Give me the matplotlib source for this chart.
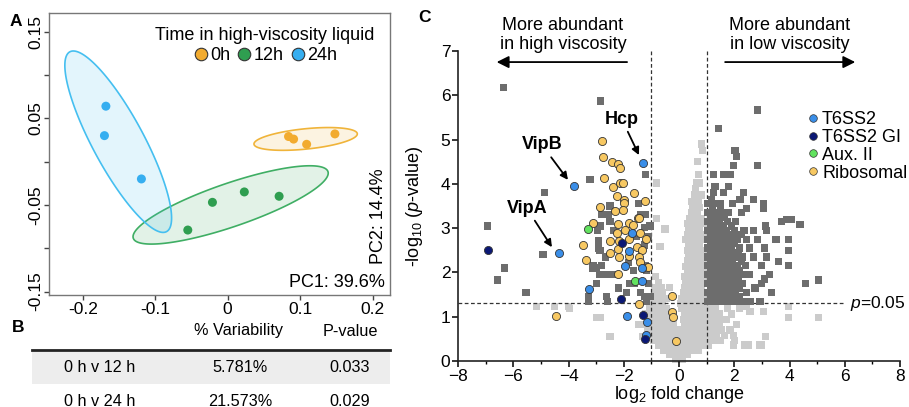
import numpy as np
import matplotlib
matplotlib.use("Agg")
import matplotlib.pyplot as plt
from matplotlib.patches import Polygon, Rectangle
from matplotlib.lines import Line2D

plt.rcParams['font.family'] = ['Liberation Sans', 'DejaVu Sans']
plt.rcParams['mathtext.fontset'] = 'custom'
plt.rcParams['mathtext.rm'] = 'Liberation Sans'
plt.rcParams['mathtext.it'] = 'Liberation Sans:italic'
plt.rcParams['mathtext.bf'] = 'Liberation Sans:bold'

# ---------------- Panel A data (PCA) ----------------
pc1_0h = [0.084, 0.091, 0.109, 0.148]
pc2_0h = [0.029, 0.026, 0.020, 0.032]
pc1_12h = [-0.055, -0.021, 0.023, 0.071]
pc2_12h = [-0.079, -0.047, -0.035, -0.040]
pc1_24h = [-0.168, -0.170, -0.119]
pc2_24h = [0.064, 0.030, -0.020]
group_labels = ['0h', '12h', '24h']
# ellipse: centre, major half-vector, minor half-vector (data units)
ell_0h = [(0.1076, 0.0262), (0.0713, 0.0058), (0.0, 0.0118)]
ell_12h = [(0.0041, -0.0500), (0.1343, 0.0385), (0.0097, -0.0237)]
ell_24h = [(-0.151, 0.023), (0.0667, -0.1038), (0.0312, 0.0140)]

# ---------------- Panel B data (table) ----------------
tbl_header = ['% Variability', 'P-value']
tbl_rows = ['0 h v 12 h', '0 h v 24 h']
tbl_var = ['5.781%', '21.573%']
tbl_p = ['0.033', '0.029']

# ---------------- Panel C data (volcano) ----------------
t6ss2_x = [-1.32, -3.80, -4.34, -1.71, -1.80, -1.96, -1.34, -1.35, -3.25, -1.87, -1.15, -1.20]
t6ss2_y = [4.48, 3.95, 2.45, 2.88, 2.49, 2.15, 2.11, 1.81, 1.62, 1.02, 0.89, 0.58]
gi_x = [-6.91, -2.05, -2.10, -1.32, -1.22]
gi_y = [2.51, 2.66, 1.40, 1.03, 0.49]
aux_x = [-3.29, -1.58]
aux_y = [2.97, 1.81]
ribo_x = [-2.80, -2.76, -2.44, -2.20, -2.12, -2.72, -2.38, -2.14, -2.02, -2.26, -1.99, -1.98,
          -1.62, -1.23, -2.86, -2.32, -2.02, -3.10, -2.20, -1.80, -1.65, -1.50, -1.44, -2.23,
          -1.96, -1.41, -1.21, -3.49, -2.48, -2.16, -1.80, -2.20, -1.53, -1.35, -3.37, -2.48,
          -2.17, -1.82, -1.46, -1.41, -1.11, -2.22, -1.45, -4.47, -0.27, -0.27, -0.21, -0.10]
ribo_y = [4.97, 4.60, 4.50, 4.44, 4.36, 4.14, 3.94, 4.01, 4.03, 3.72, 3.63, 3.57,
          3.80, 3.62, 3.48, 3.39, 3.41, 3.12, 3.09, 3.12, 3.07, 3.24, 3.22, 2.88,
          2.96, 2.88, 2.75, 2.62, 2.72, 2.72, 2.75, 2.54, 2.58, 2.51, 2.29, 2.45,
          2.34, 2.36, 2.34, 2.24, 2.13, 1.96, 1.28, 1.02, 1.47, 1.10, 1.00, 0.46]

# significant (dark grey) proteins, rows of (y, [x...])
sig_rows = [
    (1.35, [1.05, 1.25, 1.45, 1.65, 1.85, 2.05, 2.30, 2.57, 2.93, -2.58, -3.28, -1.17]),
    (1.45, [1.15, 1.35, 1.55, 1.75, 1.95, 2.20, -2.62, -1.23, -1.05, -3.29]),
    (1.55, [1.05, 1.25, 1.45, 1.65, 1.85, 2.05, 2.45, 3.35, -5.54, -1.90, -1.40]),
    (1.65, [1.15, 1.35, 1.55, 1.75, 1.95, 2.20, 2.75, -2.20]),
    (1.75, [1.05, 1.25, 1.45, 1.65, 1.85, 2.05, 2.30, 3.00, 4.57, -1.80, -1.63, -1.11, -3.00]),
    (1.83, [-6.58, 5.05]),
    (1.85, [1.15, 1.35, 1.55, 1.75, 1.95, 2.15, 3.10]),
    (1.95, [1.05, 1.25, 1.45, 1.65, 1.85, 2.05, 2.30, 2.55, 3.27, -2.89, -2.62, -2.56, -2.32, -2.74]),
    (2.05, [1.15, 1.35, 1.55, 1.75, 1.95, 2.20, -1.65, -1.17]),
    (2.10, [-6.33, -2.98, -3.13]),
    (2.15, [1.05, 1.25, 1.45, 1.65, 1.85, 2.10, 2.40, 3.00, 3.96, -1.23, -3.10, -2.80]),
    (2.22, [-1.84]),
    (2.25, [1.15, 1.35, 1.55, 1.75, 1.95, 2.25, 3.60]),
    (2.35, [1.05, 1.25, 1.45, 1.65, 1.85, 2.05, 2.30, 2.70, 3.18, -2.65]),
    (2.40, [-4.92]),
    (2.45, [1.15, 1.35, 1.55, 1.75, 1.95, 2.15]),
    (2.50, [3.96, -1.35, -2.86]),
    (2.55, [1.05, 1.25, 1.45, 1.65, 1.90, 2.20, 2.55, 3.10, -2.92]),
    (2.62, [-1.25]),
    (2.65, [1.15, 1.35, 1.55, 1.75, 2.00]),
    (2.72, [-2.90]),
    (2.75, [1.05, 1.25, 1.45, 1.65, 1.85, 2.10, 2.45, 2.85, 3.51, 3.96]),
    (2.81, [-1.53, -1.11]),
    (2.85, [1.15, 1.35, 1.55, 1.75, 2.00, 2.25]),
    (2.95, [1.05, 1.25, 1.45, 1.70, 2.00, 2.35, 2.70, 3.18, -2.38, -2.95]),
    (3.02, [-1.25]),
    (3.05, [1.15, 1.35, 1.60, 1.90, 3.12, -2.86, -6.93, -1.05]),
    (3.15, [1.05, 1.25, 1.45, 1.75, 2.05, 3.72, -2.50]),
    (3.20, [3.90, 4.08]),
    (3.09, [4.38]),
    (3.25, [1.15, 1.40, 1.65]),
    (3.30, [-2.80, -2.56, -1.23, -1.40]),
    (3.35, [1.05, 1.30, 1.55, 1.80, 2.25]),
    (3.45, [1.20, 1.49, 2.45, 3.06]),
    (3.50, [-2.50]),
    (3.55, [1.05, 1.30, 1.50, 1.95, 3.06, -1.47]),
    (3.65, [1.18, 2.21, 2.69]),
    (3.80, [1.25, 1.60, 2.33, -4.88]),
    (3.94, [1.79, 1.30]),
    (4.09, [-3.22]),
    (4.22, [1.24, 1.61, 1.85, -1.21]),
    (4.42, [1.97, 2.84]),
    (4.61, [2.09]),
    (4.76, [2.03]),
    (5.25, [1.43]),
    (5.67, [2.84]),
    (5.87, [-2.83]),
    (6.18, [-6.36]),
]

# non-significant (light grey) proteins, rows of (y, [x...])
ns_rows = [
    (0.04, [-0.12, 0.02, 0.14]),
    (0.14, [-0.33, -0.15, 0.00, 0.16, 0.32]),
    (0.25, [-0.55, -0.36, -0.18, 0.00, 0.18, 0.36, 0.55, 0.72]),
    (0.36, [-0.75, -0.55, -0.35, -0.15, 0.05, 0.25, 0.45, 0.65, 0.85, 1.05, 1.97, 2.39, 3.00, 2.51, 2.93]),
    (0.47, [-0.92, -0.72, -0.52, -0.32, -0.12, 0.08, 0.28, 0.48, 0.68, 0.88, 1.08, 1.28, 1.50, 2.00]),
    (0.55, [-2.50, -1.30, 3.12]),
    (0.58, [-1.05, -0.85, -0.65, -0.45, -0.25, -0.05, 0.15, 0.35, 0.55, 0.75, 0.95, 1.15, 1.35, 1.65, 1.97]),
    (0.70, [-1.15, -0.95, -0.75, -0.55, -0.35, -0.15, 0.10, 0.30, 0.50, 0.70, 0.90, 1.10, 1.30, 1.55, 1.85]),
    (0.82, [-1.20, -1.00, -0.80, -0.60, -0.40, -0.20, 0.20, 0.40, 0.60, 0.80, 1.00, 1.20, 1.45, 2.09, -1.45]),
    (0.94, [-1.10, -0.90, -0.70, -0.50, -0.30, 0.15, 0.35, 0.55, 0.75, 0.95, 1.15, 1.35, 1.60, 1.72]),
    (0.98, [-2.98, -2.86, 3.96, 5.05]),
    (1.06, [-1.20, -1.00, -0.80, -0.60, -0.40, 0.20, 0.40, 0.60, 0.80, 1.00, 1.20, 1.45, 1.90]),
    (1.11, [2.57, 3.06]),
    (1.18, [-1.05, -0.85, -0.65, -0.45, 0.10, 0.30, 0.50, 0.70, 0.90, 1.10, 1.30, 1.75, 2.20, -3.95]),
    (1.23, [-5.16, -4.52, -4.01, 2.45, 3.96]),
    (1.30, [-1.00, -0.80, -0.60, 0.05, 0.25, 0.45, 0.65, 0.85]),
    (1.42, [-0.95, -0.70, -0.45, 0.10, 0.30, 0.50, 0.70, 0.90]),
    (1.54, [-0.85, -0.60, 0.15, 0.35, 0.55, 0.75, 0.95]),
    (1.66, [-0.90, -0.65, -0.35, 0.20, 0.40, 0.60, 0.80]),
    (1.78, [-0.75, 0.25, 0.45, 0.65, 0.85]),
    (1.90, [-0.85, 0.20, 0.40, 0.60, 0.80, 0.95]),
    (2.02, [0.30, 0.50, 0.70, 0.90]),
    (2.14, [0.25, 0.45, 0.65, 0.85]),
    (2.26, [0.30, 0.50, 0.70, 0.90]),
    (2.38, [0.35, 0.55, 0.75, 0.95]),
    (2.50, [0.30, 0.50, 0.70, 0.90]),
    (2.58, [-0.69]),
    (2.62, [0.35, 0.55, 0.75]),
    (2.74, [0.25, 0.45, 0.65, 0.85]),
    (2.86, [0.30, 0.50, 0.70, 0.90]),
    (2.98, [0.35, 0.55, 0.75, -0.51]),
    (3.10, [0.30, 0.50, 0.70, 0.90]),
    (3.22, [0.40, 0.60, 0.80, -0.81]),
    (3.34, [0.45, 0.65]),
    (3.46, [0.50, 0.75]),
    (3.60, [0.45, 0.70]),
    (3.75, [0.55, 0.80]),
    (3.90, [0.60]),
    (4.02, [0.65, 0.75, -0.81]),
    (4.22, [0.70]),
    (4.50, [0.68]),
    (4.75, [0.85]),
    (4.90, [0.82]),
]

legend_c = ['T6SS2', 'T6SS2 GI', 'Aux. II', 'Ribosomal']

# ---------------- colours ----------------
c0, c12, c24 = '#f2ab2f', '#2f9e50', '#36aef0'
e0, e12, e24 = '#f0b43a', '#3fae64', '#45bff0'
col_t6 = '#3a8ee8'
col_gi = '#0b1875'
col_aux = '#62e25f'
col_ribo = '#f7c862'
col_sig = '#6d6d6d'
col_ns = '#cbcbcb'

FS = 13
W, H = 909, 407
fig = plt.figure(figsize=(W / 100, H / 100), dpi=100)


def fx(px):
    return px / W


def fy(py):
    return 1 - py / H


# ================= Panel A =================
axA = fig.add_axes([fx(49), fy(295), (390 - 49) / W, (295 - 13) / H])
axA.set_xlim(-0.2465, 0.224)
axA.set_ylim(-0.154, 0.1716)
t = np.linspace(0, 2 * np.pi, 200)
for (cen, u, v), ec in [(ell_12h, e12), (ell_24h, e24), (ell_0h, e0)]:
    px = cen[0] + np.cos(t) * u[0] + np.sin(t) * v[0]
    py = cen[1] + np.cos(t) * u[1] + np.sin(t) * v[1]
    axA.add_patch(Polygon(np.c_[px, py], closed=True, facecolor=ec, alpha=0.15, edgecolor='none'))
    axA.add_patch(Polygon(np.c_[px, py], closed=True, facecolor='none', edgecolor=ec, lw=1.2))
axA.scatter(pc1_0h, pc2_0h, s=42, color=c0, zorder=3, edgecolors='none')
axA.scatter(pc1_12h, pc2_12h, s=42, color=c12, zorder=3, edgecolors='none')
axA.scatter(pc1_24h, pc2_24h, s=42, color=c24, zorder=3, edgecolors='none')
axA.set_xticks([-0.2, -0.1, 0, 0.1, 0.2])
axA.set_xticklabels(['-0.2', '-0.1', '0', '0.1', '0.2'])
axA.set_yticks([-0.15, -0.05, 0.05, 0.15])
axA.set_yticklabels(['-0.15', '-0.05', '0.05', '0.15'], rotation=90, va='center')
axA.set_yticks([-0.1, 0.0, 0.1], minor=True)
axA.tick_params(which='both', length=3.5, width=1, color='#444', labelsize=12.5, pad=1.5)
axA.tick_params(axis='y', which='both', pad=0.3)
for sp in axA.spines.values():
    sp.set_color('#777')
    sp.set_linewidth(1)
hA = [Line2D([], [], marker='o', ls='none', markersize=9, markerfacecolor=c, markeredgecolor='#333',
             markeredgewidth=0.8) for c in (c0, c12, c24)]
legA = axA.legend(hA, group_labels, title='Time in high-viscosity liquid', ncol=3, frameon=False,
                  loc='upper right', bbox_to_anchor=(0.99, 0.995), fontsize=FS, title_fontsize=FS,
                  handletextpad=0.0, columnspacing=0.3, handlelength=1.0, borderpad=0.2,
                  labelspacing=0.1)
legA._legend_box.sep = 2
axA.text(0.965, 0.28, 'PC2: 14.4%', rotation=90, transform=axA.transAxes, ha='center', va='center',
         fontsize=FS)
axA.text(0.985, 0.046, 'PC1: 39.6%', transform=axA.transAxes, ha='right', va='center', fontsize=FS)
fig.text(fx(10), fy(22), 'A', fontsize=12.5, fontweight='bold', ha='left', va='center')

# ================= Panel B =================
fig.text(fx(12), fy(328), 'B', fontsize=12.5, fontweight='bold', ha='left', va='center')
fig.text(fx(239), fy(331), tbl_header[0], fontsize=11.7, ha='center', va='center')
fig.text(fx(350), fy(331), tbl_header[1], fontsize=11.7, ha='center', va='center')
fig.add_artist(Rectangle((fx(32), fy(384)), (390 - 32) / W, 32 / H, transform=fig.transFigure,
                         facecolor='#ededed', edgecolor='none'))
fig.add_artist(Line2D([fx(32), fx(390)], [fy(350), fy(350)], transform=fig.transFigure,
                      color='#222', lw=2))
row_y = [368, 401]
for i in range(len(tbl_rows)):
    fig.text(fx(100), fy(row_y[i]), tbl_rows[i], fontsize=11.7, ha='center', va='center')
    fig.text(fx(240), fy(row_y[i]), tbl_var[i], fontsize=11.7, ha='center', va='center')
    fig.text(fx(350), fy(row_y[i]), tbl_p[i], fontsize=11.7, ha='center', va='center')

# ================= Panel C =================
axC = fig.add_axes([fx(458), fy(361), (900 - 458) / W, (361 - 51) / H])
axC.set_xlim(-8, 8)
axC.set_ylim(0, 7)
for sp in ('top', 'right'):
    axC.spines[sp].set_visible(False)
for sp in ('left', 'bottom'):
    axC.spines[sp].set_linewidth(1.2)
    axC.spines[sp].set_color('#222')

ns_x = [x for y, xs in ns_rows for x in xs]
ns_y = [y for y, xs in ns_rows for x in xs]
sig_x = [x for y, xs in sig_rows for x in xs]
sig_y = [y for y, xs in sig_rows for x in xs]
axC.scatter(ns_x, ns_y, marker='s', s=27, color=col_ns, edgecolors='none', zorder=1, clip_on=False)
axC.axvline(-1, color='#333', lw=0.9, ls=(0, (3, 2)), zorder=2)
axC.axvline(1, color='#333', lw=0.9, ls=(0, (3, 2)), zorder=2)
axC.plot([-8, 6.0], [1.3, 1.3], color='#333', lw=0.9, ls=(0, (3, 2)), zorder=2)
axC.scatter(sig_x, sig_y, marker='s', s=27, color=col_sig, edgecolors='none', zorder=3)
kw = dict(s=34, edgecolors='#333', linewidths=0.6, zorder=4)
axC.scatter(ribo_x, ribo_y, color=col_ribo, **kw)
axC.scatter(aux_x, aux_y, color=col_aux, **kw)
axC.scatter(t6ss2_x, t6ss2_y, color=col_t6, **kw)
axC.scatter(gi_x, gi_y, color=col_gi, **kw)

axC.set_xticks(np.arange(-8, 9, 2))
axC.set_xticks(np.arange(-7, 8, 2), minor=True)
axC.set_yticks(np.arange(0, 8, 1))
axC.tick_params(which='major', length=4, width=1.1, labelsize=12.5, pad=1.5)
axC.tick_params(which='minor', length=2.5, width=1.0)
axC.set_xlabel('log$_2$ fold change', fontsize=FS)
axC.xaxis.set_label_coords(0.5, -0.075)
axC.set_ylabel('-log$_{10}$ ($p$-value)', fontsize=FS)
axC.yaxis.set_label_coords(-0.075, 0.5)

akw = dict(arrowstyle='-|>', color='black', lw=1.3, mutation_scale=11, shrinkA=1, shrinkB=0)
axC.annotate('Hcp', xy=(-1.45, 4.65), xytext=(-2.07, 5.46), fontsize=FS, fontweight='bold',
             ha='center', va='center', arrowprops=akw, zorder=5)
axC.annotate('VipB', xy=(-4.02, 4.09), xytext=(-4.96, 4.88), fontsize=FS, fontweight='bold',
             ha='center', va='center', arrowprops=akw, zorder=5)
axC.annotate('VipA', xy=(-4.60, 2.57), xytext=(-5.51, 3.45), fontsize=FS, fontweight='bold',
             ha='center', va='center', arrowprops=akw, zorder=5)

bkw = dict(arrowstyle='-|>', color='black', lw=1.3, mutation_scale=18, shrinkA=0, shrinkB=0)
axC.annotate('', xy=(-6.6, 6.75), xytext=(-1.88, 6.75), arrowprops=bkw, annotation_clip=False)
axC.annotate('', xy=(6.38, 6.75), xytext=(1.67, 6.75), arrowprops=bkw, annotation_clip=False)
axC.text(-4.2, 7.36, 'More abundant\nin high viscosity', ha='center', va='center', fontsize=FS,
         linespacing=1.1, clip_on=False)
axC.text(4.0, 7.36, 'More abundant\nin low viscosity', ha='center', va='center', fontsize=FS,
         linespacing=1.1, clip_on=False)
axC.text(6.2, 1.3, '$p$=0.05', ha='left', va='center', fontsize=12.5, clip_on=False)

hC = [Line2D([], [], marker='o', ls='none', markersize=5.5, markerfacecolor=c, markeredgecolor='#333',
             markeredgewidth=0.5) for c in (col_t6, col_gi, col_aux, col_ribo)]
axC.legend(hC, legend_c, loc='upper left', bbox_to_anchor=((804 - 458) / 442, (361 - 111) / 310),
           frameon=False, fontsize=FS, handletextpad=0.0, handlelength=1.0, labelspacing=0.05,
           borderpad=0, borderaxespad=0)
fig.text(fx(418), fy(17), 'C', fontsize=12.5, fontweight='bold', ha='left', va='center')

fig.savefig('out.png', dpi=100)
